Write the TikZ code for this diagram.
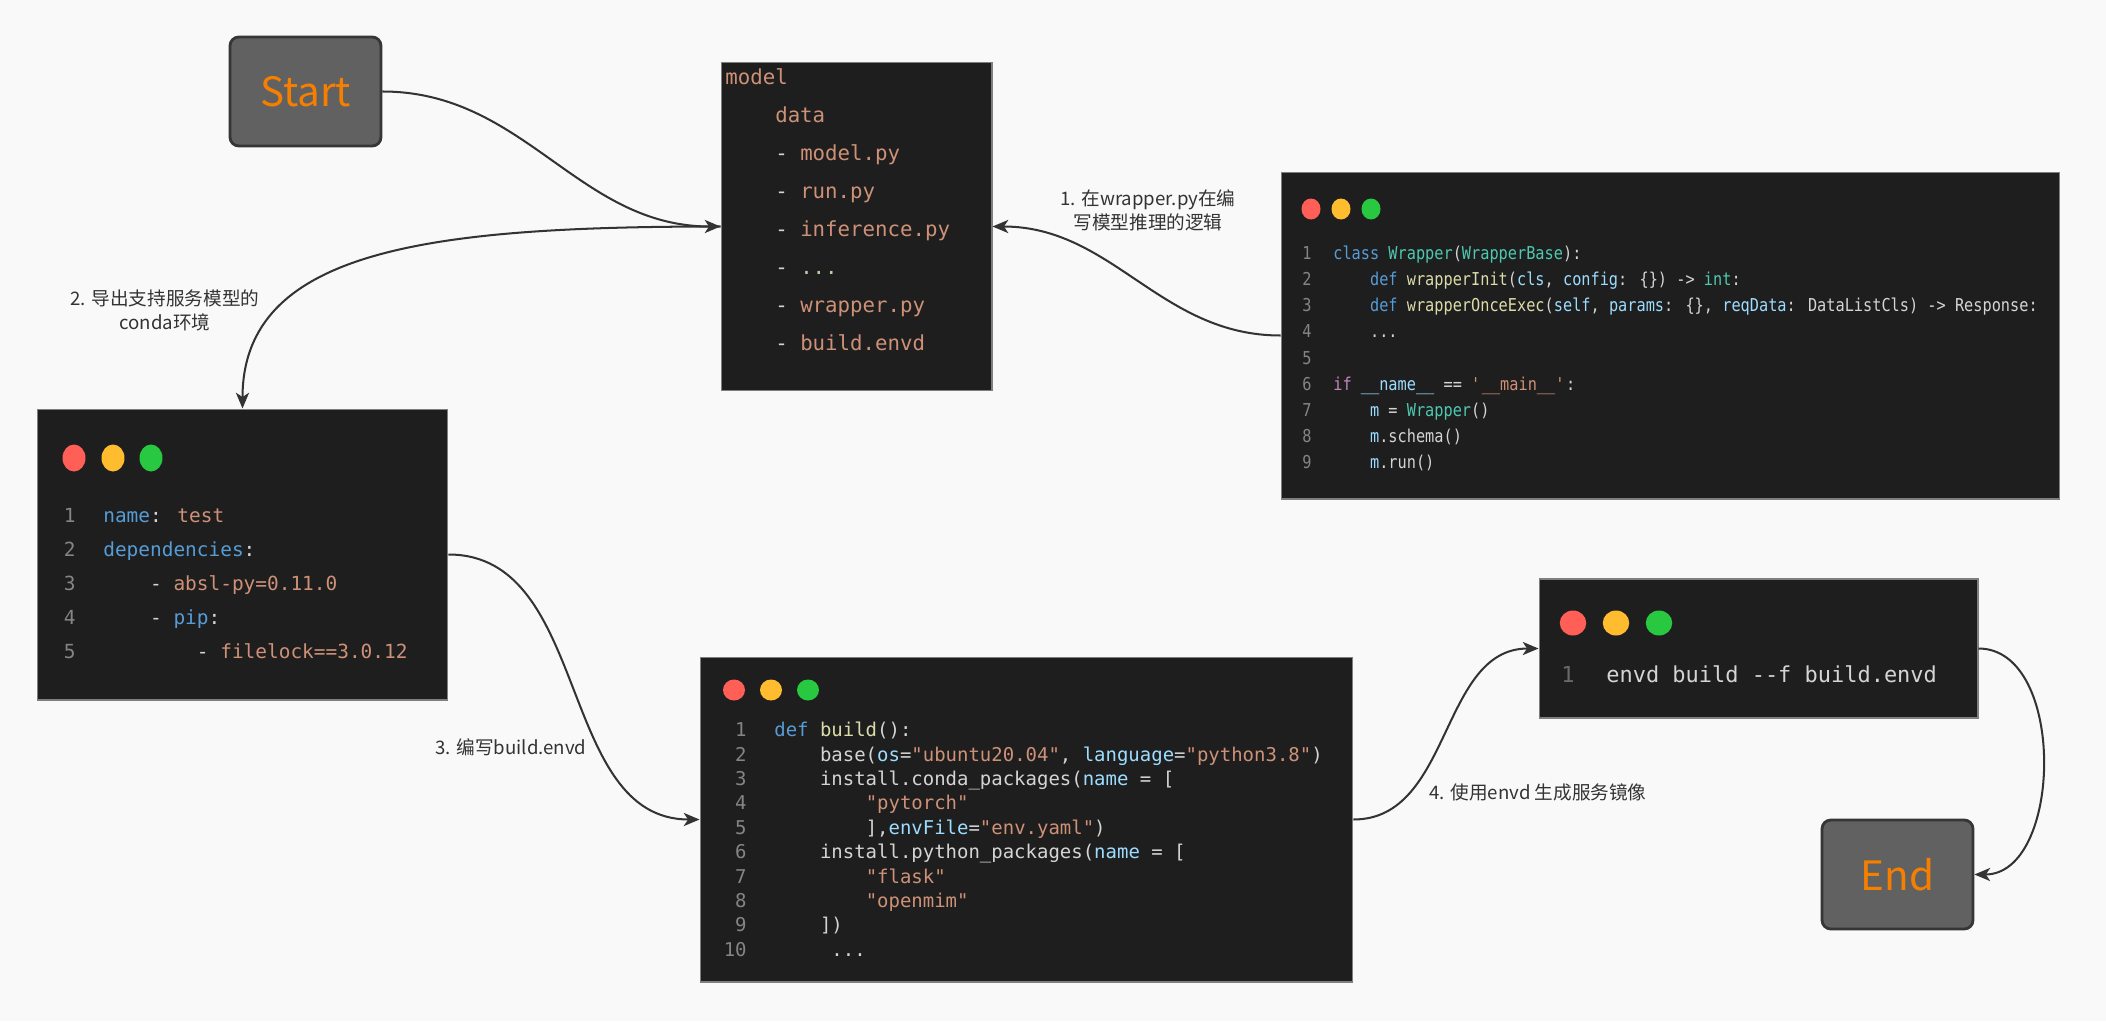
\documentclass[tikz,border=0pt]{standalone}
\usepackage{fontspec}
\usepackage{xcolor}
\usetikzlibrary{shapes,arrows.meta,positioning,calc}
\newfontfamily\cjk{Noto Sans CJK SC}
\newfontfamily\codefont{DejaVu Sans Mono}
\newfontfamily\narrowcode[FakeStretch=0.86]{DejaVu Sans Mono}

\definecolor{bgcol}{HTML}{F9F9F9}
\definecolor{codebg}{HTML}{1E1E1E}
\definecolor{boxline}{HTML}{7F7F7F}
\definecolor{plain}{HTML}{D4D4D4}
\definecolor{lncol}{HTML}{858585}
\definecolor{kw}{HTML}{569CD6}
\definecolor{cls}{HTML}{4EC9B0}
\definecolor{fn}{HTML}{DCDCAA}
\definecolor{var}{HTML}{9CDCFE}
\definecolor{str}{HTML}{CE9178}
\definecolor{ctl}{HTML}{C586C0}
\definecolor{num}{HTML}{B5CEA8}
\definecolor{termfill}{HTML}{616161}
\definecolor{termline}{HTML}{363636}
\definecolor{termtext}{HTML}{F77F00}
\definecolor{linecol}{HTML}{333333}
\definecolor{btnred}{HTML}{FF5F57}
\definecolor{btnyellow}{HTML}{FEBC2E}
\definecolor{btngreen}{HTML}{28C840}

\newcommand{\tabsp}{\phantom{0000}}
\newcommand{\ellip}{...}

\begin{document}
\begin{tikzpicture}[x=0.02cm, y=-0.02cm]
\tikzstyle{terminal} = [rectangle, rounded corners=5pt, minimum width=3.02cm, minimum height=2.18cm, draw=termline, line width=1.6pt, fill=termfill, text=termtext, font=\cjk\fontsize{23}{27}\selectfont]
\tikzstyle{codebox} = [rectangle, draw=boxline, line width=0.6pt, fill=codebg, inner sep=0pt]
\tikzstyle{note} = [align=center, text=linecol, font=\cjk\fontsize{10.6}{13.7}\selectfont]
\tikzstyle{codetxt} = [anchor=base west, inner sep=0pt, text=plain]
\tikzstyle{lineno} = [anchor=base east, inner sep=0pt, text=lncol]
\tikzstyle{arrow} = [line width=1.15pt, draw=linecol, ->, >={Stealth[length=9pt,width=7.5pt,inset=2.5pt]}]

\fill[bgcol] (0,0) rectangle (2106,1021);
\useasboundingbox (0,0) rectangle (2106,1021);

\node (start) [terminal] at (305.5,91.5) {Start};
\node (model) [codebox, minimum width=5.42cm, minimum height=6.58cm] at (856.5,226.5) {};
\node (wrapper) [codebox, minimum width=15.58cm, minimum height=6.54cm] at (1670.5,335.5) {};
\node (conda) [codebox, minimum width=8.22cm, minimum height=5.82cm] at (242.5,554.5) {};
\node (buildfile) [codebox, minimum width=13.06cm, minimum height=6.5cm] at (1026.5,819.5) {};
\node (envdcmd) [codebox, minimum width=8.78cm, minimum height=2.78cm] at (1758.5,648.5) {};
\node (end) [terminal] at (1897.5,874.5) {End};

% window buttons
\foreach \px/\col in {1311/btnred,1341/btnyellow,1371/btngreen}
  \fill[\col] (\px,209) ellipse [x radius=0.19cm, y radius=0.21cm];
\foreach \px/\col in {74/btnred,113/btnyellow,151/btngreen}
  \fill[\col] (\px,458) ellipse [x radius=0.23cm, y radius=0.27cm];
\foreach \px/\col in {734/btnred,771/btnyellow,808/btngreen}
  \fill[\col] (\px,690) ellipse [x radius=0.22cm, y radius=0.21cm];
\foreach \px/\col in {1573/btnred,1616/btnyellow,1659/btngreen}
  \fill[\col] (\px,623) ellipse [x radius=0.265cm, y radius=0.25cm];

% model folder
\foreach \txt [count=\i] in {{\textcolor{str}{model}},{\tabsp\textcolor{str}{data}},{\tabsp- \textcolor{str}{model.py}},{\tabsp- \textcolor{str}{run.py}},{\tabsp- \textcolor{str}{inference.py}},{\tabsp- \textcolor{num}{\ellip}},{\tabsp- \textcolor{str}{wrapper.py}},{\tabsp- \textcolor{str}{build.envd}}}
  \node[codetxt, font=\codefont\fontsize{11.8}{14}\selectfont] (m\i) at (725, 46.1+38.1*\i) {\txt};

% wrapper.py
\foreach \txt [count=\i] in {{\textcolor{kw}{class} \textcolor{cls}{Wrapper}(\textcolor{cls}{WrapperBase}):},{\tabsp\textcolor{kw}{def} \textcolor{fn}{wrapperInit}(\textcolor{var}{cls}, \textcolor{var}{config}: \{\}) -> \textcolor{cls}{int}:},{\tabsp\textcolor{kw}{def} \textcolor{fn}{wrapperOnceExec}(\textcolor{var}{self}, \textcolor{var}{params}: \{\}, \textcolor{var}{reqData}: DataListCls) -> Response:},{\tabsp\ellip},{},{\textcolor{ctl}{if} \textcolor{var}{\_\_name\_\_} == \textcolor{str}{\textquotesingle\_\_main\_\_\textquotesingle}:},{\tabsp\textcolor{var}{m} = \textcolor{cls}{Wrapper}()},{\tabsp\textcolor{var}{m}.schema()},{\tabsp\textcolor{var}{m}.run()}} {
  \node[lineno, font=\narrowcode\fontsize{10.1}{12}\selectfont] (wn\i) at (1312, 233.5+26.1*\i) {\i};
  \node[codetxt, font=\narrowcode\fontsize{10.1}{12}\selectfont] (w\i) at (1333, 233.5+26.1*\i) {\txt};
}

% env.yaml
\foreach \txt [count=\i] in {{\textcolor{kw}{name}: \textcolor{str}{test}},{\textcolor{kw}{dependencies}:},{\tabsp- \textcolor{str}{absl-py=0.11.0}},{\tabsp- \textcolor{kw}{pip}:},{\tabsp\tabsp- \textcolor{str}{filelock==3.0.12}}} {
  \node[lineno, font=\codefont\fontsize{11.06}{13}\selectfont] (cn\i) at (76, 488.8+34*\i) {\i};
  \node[codetxt, font=\codefont\fontsize{11.06}{13}\selectfont] (c\i) at (103, 488.8+34*\i) {\txt};
}

% build.envd
\foreach \txt [count=\i] in {{\textcolor{kw}{def} \textcolor{fn}{build}():},{\tabsp base(\textcolor{var}{os}=\textcolor{str}{"ubuntu20.04"}, \textcolor{var}{language}=\textcolor{str}{"python3.8"})},{\tabsp install.conda\_packages(\textcolor{var}{name} = [},{\tabsp\tabsp\textcolor{str}{"pytorch"}},{\tabsp\tabsp],\textcolor{var}{envFile}=\textcolor{str}{"env.yaml"})},{\tabsp install.python\_packages(\textcolor{var}{name} = [},{\tabsp\tabsp\textcolor{str}{"flask"}},{\tabsp\tabsp\textcolor{str}{"openmim"}},{\tabsp])},{\phantom{00000}\ellip}} {
  \node[lineno, font=\codefont\fontsize{10.8}{12}\selectfont] (bn\i) at (747, 712.3+24.4*\i) {\i};
  \node[codetxt, font=\codefont\fontsize{10.8}{12}\selectfont] (b\i) at (774, 712.3+24.4*\i) {\txt};
}

% envd command
\node[lineno, font=\codefont\fontsize{12.5}{14}\selectfont, text=lncol!80!black] (en1) at (1575, 682.6) {1};
\node[codetxt, font=\codefont\fontsize{12.5}{14}\selectfont] (e1) at (1606, 682.6) {envd build -{}-f build.envd};

\node (note1) [note] at (1148,210) {1. 在wrapper.py在编\\写模型推理的逻辑};
\node (note2) [note] at (165,310) {2. 导出支持服务模型的\\conda环境};
\node (note3) [note] at (511,747) {3. 编写build.envd};
\node (note4) [note] at (1538,792) {4. 使用envd 生成服务镜像};

\draw [arrow] (start.east) to[out=0,in=180] (model.west);
\draw [arrow] (model.west) to[out=180,in=90,out looseness=1.45,in looseness=0.8] (conda.north);
\draw [arrow] (wrapper.west) to[out=180,in=0] (model.east);
\draw [arrow] (conda.east) to[out=0,in=180] (buildfile.west);
\draw [arrow] (buildfile.east) to[out=0,in=180] (envdcmd.west);
\draw [arrow] (envdcmd.east) to[out=0,in=0] (end.east);

\end{tikzpicture}
\end{document}
